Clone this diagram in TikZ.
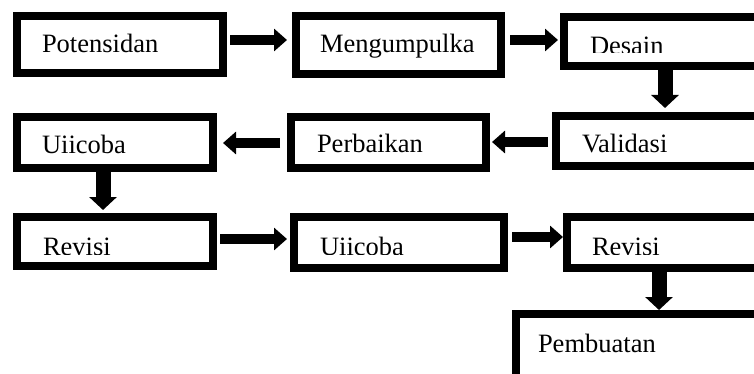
\documentclass[tikz,border=0pt]{standalone}
\usepackage{fontspec}
\setmainfont{Liberation Serif}
\usetikzlibrary{arrows.meta}
\tikzset{
  box/.style={draw=black, line width=8pt, fill=white, anchor=north west, inner sep=0pt, outer sep=4pt},
  txt/.style={anchor=base west, inner sep=0pt, outer sep=0pt, font=\fontsize{26.5}{30}\selectfont},
  harrow/.style={line width=10pt, -{Triangle[width=22pt,length=13pt]}},
  varrow/.style={line width=15pt, -{Triangle[width=27pt,length=13pt]}},
}
\begin{document}
\begin{tikzpicture}[x=1pt,y=-1pt]
\useasboundingbox (0,0) rectangle (754,374);
\fill[white] (0,0) rectangle (754,374);
\clip (0,0) rectangle (754,374);
% boxes (outer top-left corners)
\node[box, minimum width=206pt, minimum height=57pt] (b1) at (13,12) {};
\node[box, minimum width=205pt, minimum height=58pt] (b2) at (292,12) {};
\node[box, minimum width=212pt, minimum height=49pt] (b3) at (560,13) {};
\node[box, minimum width=220pt, minimum height=50pt] (b4) at (552,112) {};
\node[box, minimum width=195pt, minimum height=51pt] (b5) at (287,113) {};
\node[box, minimum width=196pt, minimum height=51pt] (b6) at (13,113) {};
\node[box, minimum width=196pt, minimum height=49pt] (b7) at (13,213) {};
\node[box, minimum width=210pt, minimum height=51pt] (b8) at (290,213) {};
\node[box, minimum width=209pt, minimum height=51pt] (b9) at (563,213) {};
\node[box, minimum width=260pt, minimum height=67pt] (b10) at (512,310) {};
% texts
\node[txt] (t1) at (42,53) {Potensidan};
\node[txt] (t2) at (320,53) {Mengumpulka};
\begin{scope}
  \clip (560,20) rectangle (754,53);
  \node[txt] (t3) at (590,55) {Desain};
\end{scope}
\node[txt] (t4) at (582,153) {Validasi};
\node[txt] (t5) at (317,153) {Perbaikan};
\begin{scope}
  \clip (20,120) rectangle (210,154);
  \node[txt] (t6) at (42,154) {Uiicoba};
\end{scope}
\begin{scope}
  \clip (20,220) rectangle (210,254);
  \node[txt] (t7) at (43,255) {Revisi};
\end{scope}
\begin{scope}
  \clip (297,220) rectangle (500,254);
  \node[txt] (t8) at (320,255) {Uiicoba};
\end{scope}
\begin{scope}
  \clip (570,220) rectangle (754,254);
  \node[txt] (t9) at (592,255) {Revisi};
\end{scope}
\node[txt] (t10) at (538,352) {Pembuatan};
% connectors
\draw[harrow, shorten <=3pt, shorten >=5pt] (b1.east |- 0,40) -- (b2.west |- 0,40);
\draw[harrow, shorten <=5pt, shorten >=2pt] (b2.east |- 0,40) -- (b3.west |- 0,40);
\draw[varrow, shorten >=4pt] (b3.south -| 665,0) -- (b4.north -| 665,0);
\draw[harrow, shorten <=4pt, shorten >=2pt] (b4.west |- 0,142) -- (b5.east |- 0,142);
\draw[harrow, shorten <=7pt, shorten >=6pt] (b5.west |- 0,143) -- (b6.east |- 0,143);
\draw[varrow, shorten >=3pt] (b6.south -| 103,0) -- (b7.north -| 103,0);
\draw[harrow, shorten <=3pt, shorten >=3pt] (b7.east |- 0,239) -- (b8.west |- 0,239);
\draw[harrow, shorten <=4pt] (b8.east |- 0,237) -- (b9.west |- 0,237);
\draw[varrow] (b9.south -| 659,0) -- (b10.north -| 659,0);
\end{tikzpicture}
\end{document}
